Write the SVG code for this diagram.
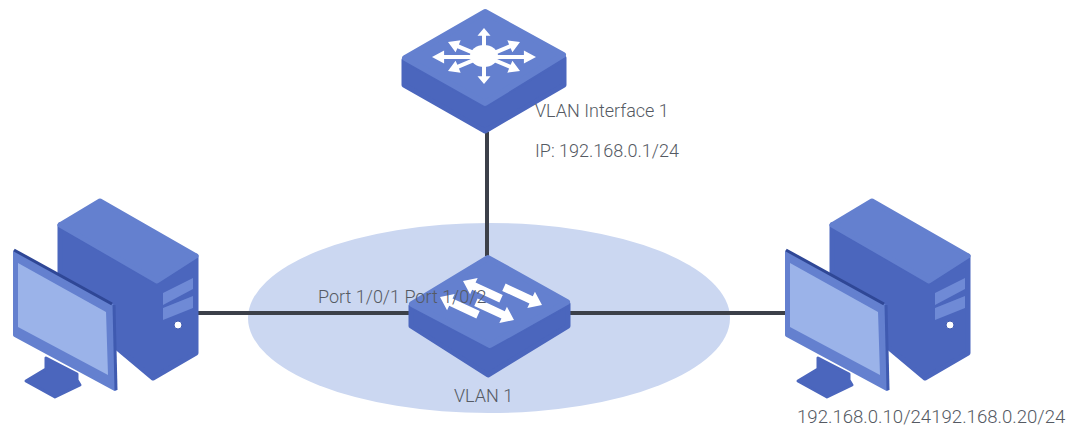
<svg xmlns="http://www.w3.org/2000/svg" xmlns:xlink="http://www.w3.org/1999/xlink" width="1074" height="434" viewBox="0 0 1074 434">
<style>
.t{font-family:Roboto,"Liberation Sans",Arial,sans-serif;font-weight:300;font-size:18px;fill:#555a63}
.face{fill:#6480cf;stroke:#6480cf;stroke-width:6;stroke-linejoin:round}
.side{fill:#4b66bd;stroke:#4b66bd;stroke-width:5;stroke-linejoin:round}
.w{fill:#fff}
.link{stroke:#3c4049;stroke-width:4;fill:none}
</style>
<defs>
<path id="ar" d="M0 0L-11 -6.500V-2H-44V2H-11V6.500Z" fill="#fff"/>
<path id="as" d="M0 0L-12 -9V-4H-42V4H-12V9Z" fill="#fff"/>
<g id="pc">
<path d="M60 225L60 300L153 378L196 353L196 256L157 283Z" fill="#4b66bd" stroke="#4b66bd" stroke-width="5" stroke-linejoin="round"/>
<path d="M60 225L100 201L196 256L157 281Z" fill="#6480cf" stroke="#6480cf" stroke-width="5" stroke-linejoin="round"/>
<path d="M163 293L193 278V289L163 305ZM163 308L193 296V308L163 320Z" fill="#6f8ad6"/>
<circle cx="178" cy="325" r="4" fill="#fff" stroke="#3f5ab0" stroke-width="1"/>
<path d="M46 358L46 369L26 381L55 397L80 385L77 380V374Z" fill="#4b66bd" stroke="#4b66bd" stroke-width="3" stroke-linejoin="round"/>
<path d="M15 252L112 306L115 389L15 335Z" fill="#6480cf" stroke="#6480cf" stroke-width="4" stroke-linejoin="round"/>
<path d="M14 250L112 304" stroke="#2f4796" stroke-width="3" fill="none"/>
<path d="M114 305L116 390" stroke="#3f5ab0" stroke-width="3" fill="none"/>
<path d="M18 263L106 312L108 375L18 327Z" fill="#9bb3e9"/>
</g>
</defs>
<ellipse cx="489" cy="318" rx="241" ry="95" fill="#cbd7f1"/>
<g id="connectors">
<path class="link" d="M487 132V256"/>
<path class="link" d="M198 313H412M566 313H786"/>
</g>
<g id="router">
<path class="side" d="M404 60V85L485 131L564 85V58L485 105Z"/>
<path class="face" d="M405 58L485 12L563 55L485 103Z"/>
<ellipse class="w" cx="484" cy="56" rx="14" ry="11"/>
<use href="#ar" xlink:href="#ar" transform="translate(484 28) rotate(-90) scale(.7 1)"/>
<use href="#ar" xlink:href="#ar" transform="translate(484 84) rotate(90) scale(.7 1)"/>
<use href="#ar" xlink:href="#ar" transform="translate(432 57) rotate(180) scale(1.1 1)"/>
<use href="#ar" xlink:href="#ar" transform="translate(536 57) scale(1.1 1)"/>
<use href="#ar" xlink:href="#ar" transform="translate(448 42) rotate(203)"/>
<use href="#ar" xlink:href="#ar" transform="translate(520 42) rotate(-23)"/>
<use href="#ar" xlink:href="#ar" transform="translate(448 71) rotate(157)"/>
<use href="#ar" xlink:href="#ar" transform="translate(520 71) rotate(23)"/>
</g>
<g id="switch">
<path class="side" d="M411 306V326L488 375L568 326V304L490 347Z"/>
<path class="face" d="M412 304L488 258L567 302L490 345Z"/>
<use href="#as" xlink:href="#as" transform="translate(463 281) rotate(205)"/>
<use href="#as" xlink:href="#as" transform="translate(542 305) rotate(25)"/>
<use href="#as" xlink:href="#as" transform="translate(514 320) rotate(25)"/>
<use href="#as" xlink:href="#as" transform="translate(440 297) rotate(205)"/>
</g>
<g id="pc-left"><use href="#pc" xlink:href="#pc"/></g>
<g id="pc-right"><use href="#pc" xlink:href="#pc" x="772"/></g>
<g id="labels">
<text class="t" x="535" y="117">VLAN Interface 1</text>
<text class="t" x="535" y="157">IP: 192.168.0.1/24</text>
<text class="t" x="318" y="303">Port 1/0/1 Port 1/0/2</text>
<text class="t" x="454" y="402">VLAN 1</text>
<text class="t" x="797" y="423" style="font-size:18.6px">192.168.0.10/24192.168.0.20/24</text>
</g>
</svg>
